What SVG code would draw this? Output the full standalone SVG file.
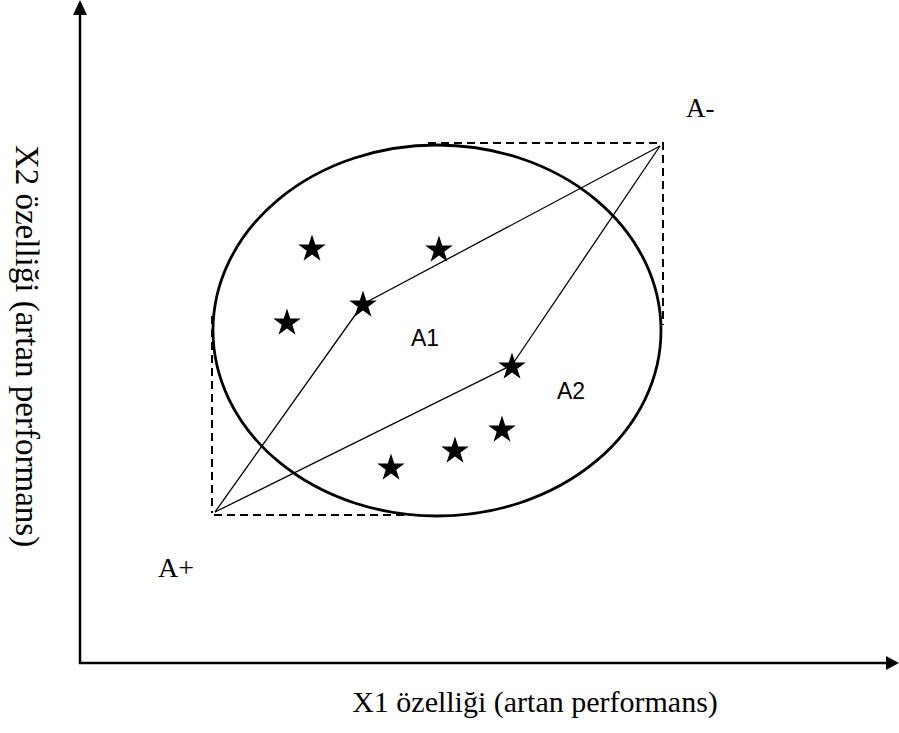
<svg xmlns="http://www.w3.org/2000/svg" width="899" height="733" viewBox="0 0 899 733">
<style>
.axis{stroke:#000;stroke-width:2.5;fill:none}
.dash{stroke:#000;stroke-width:2;fill:none;stroke-dasharray:8,5}
.conn{stroke:#000;stroke-width:1.3;fill:none}
.serif{font-family:"Liberation Serif","Times New Roman",serif;fill:#000}
.sans{font-family:"Liberation Sans",Arial,sans-serif;fill:#000;font-size:23px}
</style>
<defs>
<path id="star" d="M0,-14.5 L3.26,-4.48 L13.79,-4.48 L5.27,1.71 L8.52,11.73 L0,5.54 L-8.52,11.73 L-5.27,1.71 L-13.79,-4.48 L-3.26,-4.48 Z" fill="#000"/>
</defs>
<rect width="899" height="733" fill="#fff"/>
<g id="axes">
<line class="axis" x1="80" y1="664" x2="80" y2="13"/>
<polygon points="80,0 73,15 87,15" fill="#000"/>
<line class="axis" x1="79" y1="663" x2="887" y2="663"/>
<polygon points="899,663 886,656 886,670" fill="#000"/>
</g>
<g id="region">
<ellipse cx="437" cy="330.5" rx="224" ry="185.5" fill="none" stroke="#000" stroke-width="2.8"/>
<path class="dash" d="M428,143 H663 V325"/>
<path class="dash" d="M212,316 V513 M214,515 H418"/>
</g>
<g id="connectors">
<line class="conn" x1="215" y1="512" x2="363" y2="304"/>
<line class="conn" x1="363" y1="304" x2="660" y2="146"/>
<line class="conn" x1="215" y1="512" x2="512" y2="365"/>
<line class="conn" x1="512" y1="365" x2="660" y2="146"/>
</g>
<g id="stars">
<use id="s1" href="#star" x="312" y="249"/>
<use id="s2" href="#star" x="439" y="250"/>
<use id="s3" href="#star" x="363" y="305"/>
<use id="s4" href="#star" x="287" y="323"/>
<use id="s5" href="#star" x="512" y="367"/>
<use id="s6" href="#star" x="502" y="430"/>
<use id="s7" href="#star" x="455" y="451"/>
<use id="s8" href="#star" x="391" y="468"/>
</g>
<g id="labels">
<text class="sans" x="411" y="346">A1</text>
<text class="sans" x="557" y="399">A2</text>
<text class="serif" x="686" y="117" font-size="27">A-</text>
<text class="serif" x="158" y="577" font-size="28">A+</text>
<text class="serif" x="535" y="712" font-size="30" text-anchor="middle">X1 özelliği (artan performans)</text>
<text class="serif" font-size="33" text-anchor="middle" transform="translate(16,346) rotate(90)">X2 özelliği (artan performans)</text>
</g>
</svg>
